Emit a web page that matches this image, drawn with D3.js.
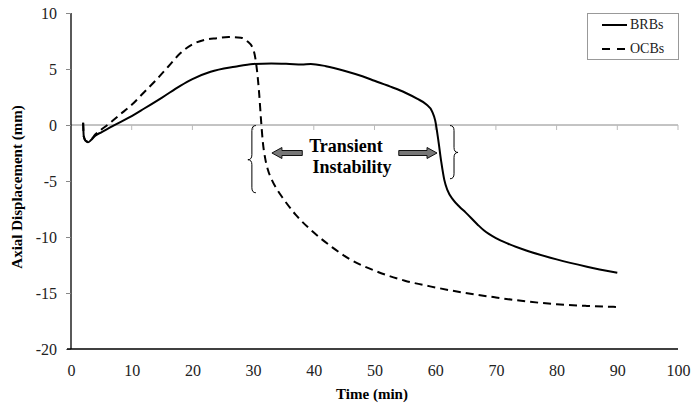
<!DOCTYPE html>
<html><head><meta charset="utf-8">
<script src="https://cdn.jsdelivr.net/npm/d3@7/dist/d3.min.js"></script>
<style>body{margin:0;background:#fff}svg{display:block}text{font-family:"Liberation Serif","Times New Roman",serif}</style>
</head><body>
<svg id="c" width="693" height="407"></svg>
<script>
const xTicks = [0,10,20,30,40,50,60,70,80,90,100];
const yTicks = [-20,-15,-10,-5,0,5,10];
const seriesNames = ["BRBs","OCBs"];
const brbT = [2,2.1,2.4,2.8,3.3,4,5,7,10,12,15,18,20,23,27,30,33,36,38,39.5,42,45,48,50,53,55,57,58.5,59.5,60,60.5,61,61.5,62,63,64,65,67,68,70,72,75,80,85,90];
const brbV = [0.2,-1.0,-1.4,-1.55,-1.35,-0.95,-0.65,-0.05,0.8,1.45,2.45,3.5,4.1,4.75,5.2,5.45,5.5,5.45,5.4,5.45,5.25,4.85,4.35,3.95,3.35,2.9,2.35,1.85,1.2,0.4,-1.3,-3.3,-4.9,-5.8,-6.7,-7.3,-7.8,-8.9,-9.4,-10.1,-10.6,-11.2,-12.0,-12.65,-13.2];
const ocbT = [2,2.1,2.4,2.9,3.5,4,5,6,7,8,10,12,14,16,18,20,22,24,26,28,29,30,30.5,31,31.3,31.6,32,32.5,33,34,35,37,40,43,46,50,55,60,65,70,75,80,85,90];
const ocbV = [0.2,-1.0,-1.4,-1.5,-1.2,-0.85,-0.4,0,0.45,0.9,1.8,2.9,4.0,5.2,6.4,7.2,7.6,7.75,7.85,7.8,7.5,6.8,5.5,2.8,0.5,-1.5,-3.0,-4.1,-4.8,-5.8,-6.6,-8.0,-9.6,-10.9,-12.0,-13.0,-13.9,-14.5,-15.0,-15.4,-15.75,-16.0,-16.15,-16.25];
const annoText = ["Transient","Instability"];

const svg = d3.select("#c");
const x = d3.scaleLinear().domain([0,100]).range([71,678]);
const y = d3.scaleLinear().domain([-20,10]).range([349,13]);
const fmt = d => String(d);

// zero line with ticks
svg.append("line").attr("x1",x(0)).attr("x2",x(100)).attr("y1",y(0)).attr("y2",y(0)).attr("stroke","#888").attr("stroke-width",1);
svg.selectAll(".zt").data(xTicks.slice(1)).enter().append("line")
  .attr("x1",d=>x(d)).attr("x2",d=>x(d)).attr("y1",y(0)).attr("y2",y(0)+5).attr("stroke","#bbb");

// y axis
const ya = svg.append("g").attr("transform",`translate(${x(0)},0)`).call(d3.axisLeft(y).tickValues(yTicks).tickSize(5).tickPadding(9).tickFormat(fmt));
ya.select(".domain").attr("stroke","#000").attr("stroke-width",1.3).attr("d",`M0,${y(10)}V${y(-20)}`);
ya.selectAll(".tick line").attr("stroke","#888");
ya.selectAll("text").attr("font-size",16).attr("fill","#222").attr("dy","0.35em");

// bottom axis
const xa = svg.append("g").attr("transform",`translate(0,${y(-20)})`).call(d3.axisBottom(x).tickValues(xTicks).tickSize(0).tickPadding(16).tickFormat(fmt));
xa.select(".domain").attr("stroke","#000").attr("stroke-width",1.3).attr("d",`M${x(0)-4},0H${x(100)}`);
xa.selectAll("text").attr("font-size",16).attr("fill","#222");

// titles
svg.append("text").attr("x",372).attr("y",399).attr("text-anchor","middle").attr("font-size",15).attr("font-weight","bold").text("Time (min)");
svg.append("text").attr("transform","translate(22,187) rotate(-90)").attr("text-anchor","middle").attr("font-size",15).attr("font-weight","bold").text("Axial Displacement (mm)");

const line = d3.line().x(d=>x(d[0])).y(d=>y(d[1])).curve(d3.curveMonotoneX);
svg.append("path").datum(brbT.map((t,i)=>[t,brbV[i]])).attr("d",line).attr("fill","none").attr("stroke","#000").attr("stroke-width",2);
svg.append("path").datum(ocbT.map((t,i)=>[t,ocbV[i]])).attr("d",line).attr("fill","none").attr("stroke","#000").attr("stroke-width",2).attr("stroke-dasharray","8,5");

// legend
const lg = svg.append("g");
lg.append("rect").attr("x",587.5).attr("y",13.5).attr("width",91).attr("height",46).attr("fill","#fff").attr("stroke","#999");
lg.append("line").attr("x1",602).attr("x2",627).attr("y1",25).attr("y2",25).attr("stroke","#000").attr("stroke-width",2);
lg.append("line").attr("x1",602).attr("x2",627).attr("y1",49).attr("y2",49).attr("stroke","#000").attr("stroke-width",2).attr("stroke-dasharray","8,7");
lg.selectAll(".lt").data(seriesNames).enter().append("text").attr("x",630).attr("y",(d,i)=>29+i*24).attr("font-size",14).attr("fill","#222").text(d=>d);

// annotation
svg.append("text").attr("x",x(45.3)).attr("y",y(-2.4)).attr("text-anchor","middle").attr("font-size",18).attr("font-weight","bold").text(annoText[0]);
svg.append("text").attr("x",x(46.3)).attr("y",y(-4.3)).attr("text-anchor","middle").attr("font-size",18).attr("font-weight","bold").text(annoText[1]);

function arrow(tail, tip, yy){
  const dir = Math.sign(tip-tail), hl=10, sh=2.5, hh=5.5;
  const b = tip - dir*hl;
  const p = [[tail,yy-sh],[b,yy-sh],[b,yy-hh],[tip,yy],[b,yy+hh],[b,yy+sh],[tail,yy+sh]];
  svg.append("path").attr("d","M"+p.map(q=>q.join(",")).join("L")+"Z").attr("fill","#777").attr("stroke","#111").attr("stroke-width",1);
}
arrow(x(38.1), x(33.1), y(-2.5));
arrow(x(54.0), x(60.3), y(-2.5));

function brace(bx, y0, y1, ym, dir){
  const w=4;
  const a = bx - dir*w, c = bx, t = bx + dir*w;
  const d = `M${a},${y0} Q${c},${y0} ${c},${y0+5} L${c},${ym-5} Q${c},${ym} ${t},${ym} Q${c},${ym} ${c},${ym+5} L${c},${y1-5} Q${c},${y1} ${a},${y1}`;
  svg.append("path").attr("d",d).attr("fill","none").attr("stroke","#000").attr("stroke-width",1);
}
brace(x(29.8), y(-0.05), y(-6.05), y(-3.1), -1);
brace(x(63.1), y(-0.05), y(-4.8), y(-2.45), 1);
</script>
</body></html>
